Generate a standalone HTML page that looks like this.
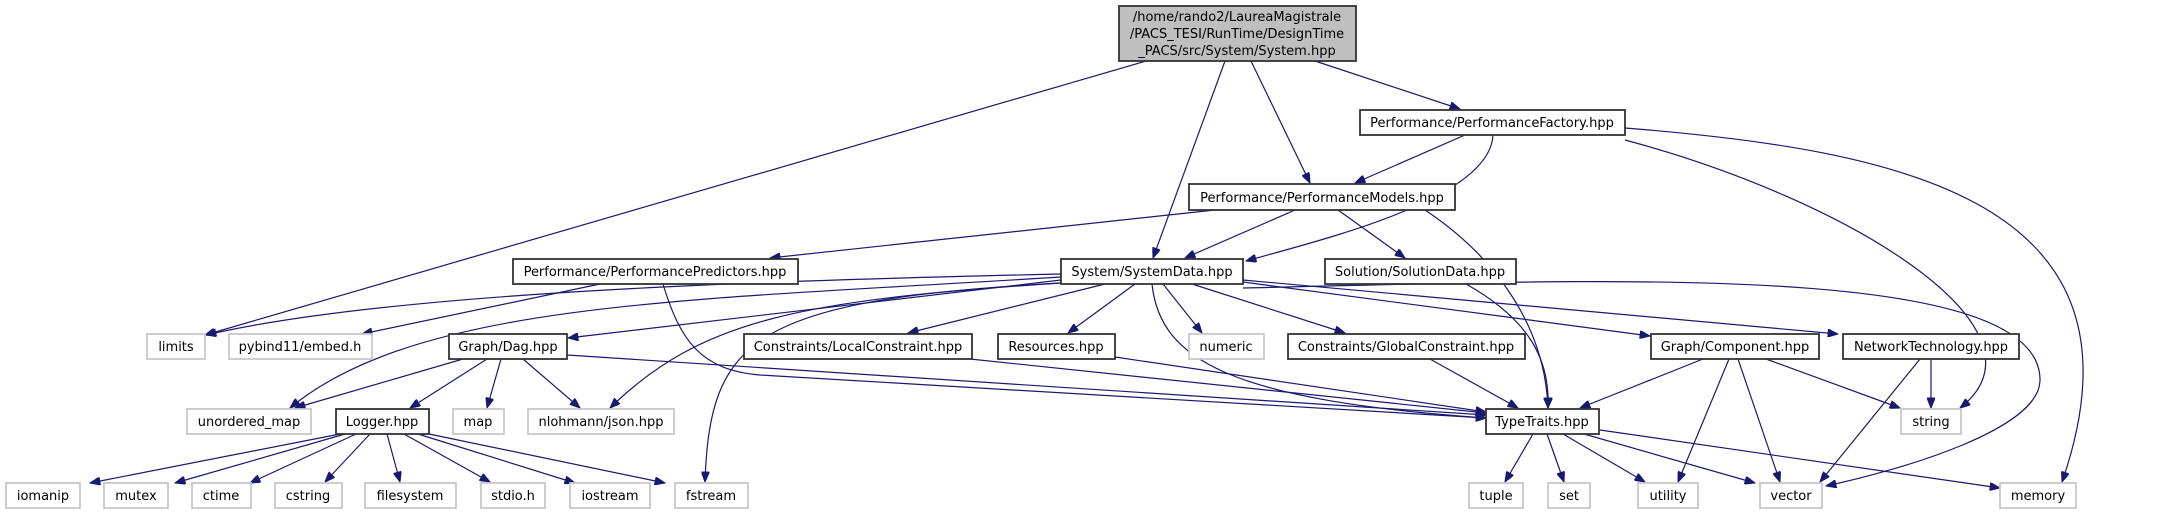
<!DOCTYPE html>
<html><head><meta charset="utf-8"><style>
html,body{margin:0;padding:0;background:#fff;}
svg{display:block;}
text{font-family:"DejaVu Sans",sans-serif;font-size:13px;fill:#000;}
.e{fill:none;stroke:#191970;stroke-width:1.2;marker-end:url(#a);}
.n{fill:#fff;stroke:#333;stroke-width:1.8;}
.g{fill:#fff;stroke:#c8c8c8;stroke-width:1.8;}
</style></head><body>
<svg width="2163" height="515" viewBox="0 0 2163 515" xmlns="http://www.w3.org/2000/svg">
<defs><marker id="a" viewBox="0 0 10 8" refX="10" refY="4" markerWidth="11" markerHeight="8" markerUnits="userSpaceOnUse" orient="auto"><path d="M0,0 L10,4 L0,8 z" fill="#191970" stroke="#191970"/></marker></defs>
<g>
<path class="e" d="M1146,61 L205,335"/>
<path class="e" d="M1225,61 L1153,258"/>
<path class="e" d="M1251,61 L1310,183"/>
<path class="e" d="M1315,61 L1460,109"/>
<path class="e" d="M1465,135 L1355,183"/>
<path class="e" d="M1493,135 C1490,200 1320,240 1246,261"/>
<path class="e" d="M1625,140 C1850,200 2060,330 1960,408"/>
<path class="e" d="M1625,128 C1900,150 2160,200 2062,482"/>
<path class="e" d="M1215,210 L770,258"/>
<path class="e" d="M1295,210 L1185,258"/>
<path class="e" d="M1338,210 L1405,258"/>
<path class="e" d="M1425,210 C1500,260 1545,330 1548,408"/>
<path class="e" d="M600,284 L362,334"/>
<path class="e" d="M663,284 C680,340 700,370 760,375 L1486,418"/>
<path class="e" d="M1061,274 C800,280 400,290 206,335"/>
<path class="e" d="M1061,277 C700,300 420,300 290,408"/>
<path class="e" d="M1061,280 L568,338"/>
<path class="e" d="M1061,283 C800,300 700,320 610,408"/>
<path class="e" d="M1061,283 C750,300 710,340 705,482"/>
<path class="e" d="M1105,284 L908,333"/>
<path class="e" d="M1135,284 L1068,333"/>
<path class="e" d="M1163,284 L1202,333"/>
<path class="e" d="M1192,284 L1345,333"/>
<path class="e" d="M1152,284 C1160,360 1230,400 1486,418"/>
<path class="e" d="M1243,282 L1650,336"/>
<path class="e" d="M1243,280 L1838,334"/>
<path class="e" d="M1243,288 C1600,280 2040,260 2040,380 C2040,430 1900,470 1826,486"/>
<path class="e" d="M1466,284 C1530,320 1550,360 1548,408"/>
<path class="e" d="M463,359 L295,408"/>
<path class="e" d="M487,359 L410,408"/>
<path class="e" d="M501,359 L487,408"/>
<path class="e" d="M523,359 L580,408"/>
<path class="e" d="M567,355 L1486,415"/>
<path class="e" d="M970,359 L1486,413"/>
<path class="e" d="M1115,357 L1486,412"/>
<path class="e" d="M1430,359 L1518,408"/>
<path class="e" d="M1703,359 L1580,408"/>
<path class="e" d="M1729,359 L1678,482"/>
<path class="e" d="M1738,359 L1780,482"/>
<path class="e" d="M1766,359 L1900,408"/>
<path class="e" d="M1920,359 L1820,482"/>
<path class="e" d="M1931,359 L1931,408"/>
<path class="e" d="M340,434 L90,483"/>
<path class="e" d="M345,434 L175,483"/>
<path class="e" d="M356,434 L250,483"/>
<path class="e" d="M370,434 L325,482"/>
<path class="e" d="M387,434 L400,482"/>
<path class="e" d="M404,434 L490,482"/>
<path class="e" d="M418,434 L575,483"/>
<path class="e" d="M429,434 L665,483"/>
<path class="e" d="M1533,434 L1505,482"/>
<path class="e" d="M1547,434 L1564,482"/>
<path class="e" d="M1563,434 L1645,482"/>
<path class="e" d="M1584,434 L1755,483"/>
<path class="e" d="M1600,430 L2000,488"/>
</g>
<g>
<rect x="1119" y="6" width="237" height="55" fill="#bfbfbf" stroke="#333" stroke-width="1.8"/>
<text x="1237" y="21" text-anchor="middle">/home/rando2/LaureaMagistrale</text>
<text x="1237" y="38" text-anchor="middle">/PACS_TESI/RunTime/DesignTime</text>
<text x="1237" y="55" text-anchor="middle">_PACS/src/System/System.hpp</text>
</g>
<g>
<rect class="n" x="1360" y="110" width="265" height="25"/><text x="1492" y="127" text-anchor="middle">Performance/PerformanceFactory.hpp</text>
<rect class="n" x="1189" y="184" width="266" height="26"/><text x="1322" y="202" text-anchor="middle">Performance/PerformanceModels.hpp</text>
<rect class="n" x="513" y="259" width="285" height="25"/><text x="655" y="276" text-anchor="middle">Performance/PerformancePredictors.hpp</text>
<rect class="n" x="1061" y="259" width="182" height="25"/><text x="1152" y="276" text-anchor="middle">System/SystemData.hpp</text>
<rect class="n" x="1325" y="259" width="191" height="25"/><text x="1420" y="276" text-anchor="middle">Solution/SolutionData.hpp</text>
<rect class="g" x="147" y="334" width="58" height="25"/><text x="176" y="351" text-anchor="middle">limits</text>
<rect class="g" x="229" y="334" width="143" height="25"/><text x="300" y="351" text-anchor="middle">pybind11/embed.h</text>
<rect class="n" x="449" y="334" width="118" height="25"/><text x="508" y="351" text-anchor="middle">Graph/Dag.hpp</text>
<rect class="n" x="744" y="334" width="228" height="25"/><text x="858" y="351" text-anchor="middle">Constraints/LocalConstraint.hpp</text>
<rect class="n" x="998" y="334" width="117" height="25"/><text x="1056" y="351" text-anchor="middle">Resources.hpp</text>
<rect class="g" x="1189" y="334" width="75" height="25"/><text x="1226" y="351" text-anchor="middle">numeric</text>
<rect class="n" x="1288" y="334" width="237" height="25"/><text x="1406" y="351" text-anchor="middle">Constraints/GlobalConstraint.hpp</text>
<rect class="n" x="1651" y="334" width="168" height="25"/><text x="1735" y="351" text-anchor="middle">Graph/Component.hpp</text>
<rect class="n" x="1843" y="334" width="176" height="25"/><text x="1931" y="351" text-anchor="middle">NetworkTechnology.hpp</text>
<rect class="g" x="187" y="409" width="124" height="25"/><text x="249" y="426" text-anchor="middle">unordered_map</text>
<rect class="n" x="336" y="409" width="93" height="25"/><text x="382" y="426" text-anchor="middle">Logger.hpp</text>
<rect class="g" x="453" y="409" width="51" height="25"/><text x="478" y="426" text-anchor="middle">map</text>
<rect class="g" x="528" y="409" width="146" height="25"/><text x="601" y="426" text-anchor="middle">nlohmann/json.hpp</text>
<rect class="n" x="1486" y="409" width="113" height="25"/><text x="1542" y="426" text-anchor="middle">TypeTraits.hpp</text>
<rect class="g" x="1901" y="409" width="60" height="25"/><text x="1931" y="426" text-anchor="middle">string</text>
<rect class="g" x="6" y="483" width="74" height="25"/><text x="43" y="500" text-anchor="middle">iomanip</text>
<rect class="g" x="104" y="483" width="64" height="25"/><text x="136" y="500" text-anchor="middle">mutex</text>
<rect class="g" x="192" y="483" width="59" height="25"/><text x="221" y="500" text-anchor="middle">ctime</text>
<rect class="g" x="275" y="483" width="67" height="25"/><text x="308" y="500" text-anchor="middle">cstring</text>
<rect class="g" x="365" y="483" width="91" height="25"/><text x="410" y="500" text-anchor="middle">filesystem</text>
<rect class="g" x="481" y="483" width="64" height="25"/><text x="513" y="500" text-anchor="middle">stdio.h</text>
<rect class="g" x="570" y="483" width="80" height="25"/><text x="610" y="500" text-anchor="middle">iostream</text>
<rect class="g" x="675" y="483" width="73" height="25"/><text x="711" y="500" text-anchor="middle">fstream</text>
<rect class="g" x="1469" y="483" width="54" height="25"/><text x="1496" y="500" text-anchor="middle">tuple</text>
<rect class="g" x="1548" y="483" width="42" height="25"/><text x="1569" y="500" text-anchor="middle">set</text>
<rect class="g" x="1638" y="483" width="60" height="25"/><text x="1668" y="500" text-anchor="middle">utility</text>
<rect class="g" x="1760" y="483" width="62" height="25"/><text x="1791" y="500" text-anchor="middle">vector</text>
<rect class="g" x="2000" y="483" width="76" height="25"/><text x="2038" y="500" text-anchor="middle">memory</text>
</g>
</svg>
</body></html>
